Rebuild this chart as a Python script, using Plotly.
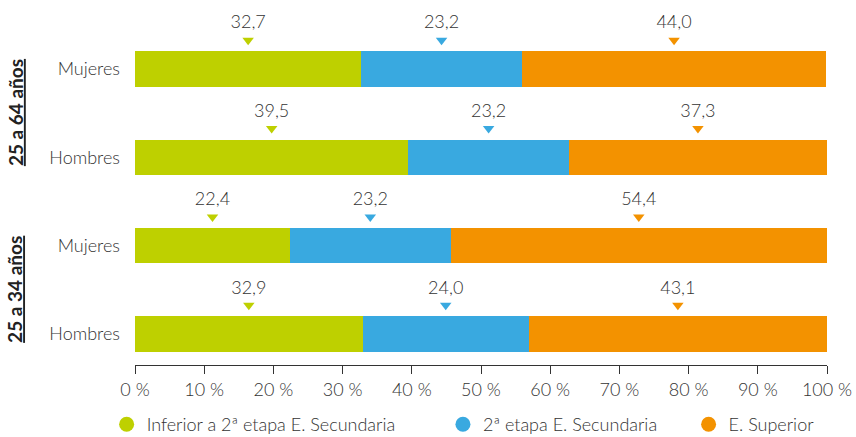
import plotly.graph_objects as go

categories = ["Mujeres", "Hombres", "Mujeres", "Hombres"]
groups = ["25 a 64 años", "25 a 34 años"]
series_names = ["Inferior a 2ª etapa E. Secundaria", "2ª etapa E. Secundaria", "E. Superior"]
inferior = [32.7, 39.5, 22.4, 32.9]
segunda = [23.2, 23.2, 23.2, 24.0]
superior = [44.0, 37.3, 54.4, 43.1]
tick_vals_x = [0, 10, 20, 30, 40, 50, 60, 70, 80, 90, 100]
tick_text_x = [f"{v} %" for v in tick_vals_x]

colors = ["#bed000", "#39a9e0", "#f39200"]
series = [inferior, segunda, superior]

FONT = "Lato"
TXT = "#333333"
FS = 18

ypos = [3, 2, 1, 0]
fig = go.Figure()

base = [0, 0, 0, 0]
for name, vals, col in zip(series_names, series, colors):
    fig.add_trace(go.Bar(
        y=ypos, x=vals, base=base, orientation="h", width=0.4,
        marker=dict(color=col, line=dict(width=0)), showlegend=False, hoverinfo="x"))
    mids = [b + v / 2 for b, v in zip(base, vals)]
    fig.add_trace(go.Scatter(
        x=mids, y=[p + 0.325 for p in ypos], mode="markers+text",
        marker=dict(symbol="triangle-down", size=10, color=col),
        text=[f"{v:.1f}".replace(".", ",") for v in vals],
        textposition="top center", textfont=dict(family=FONT, size=FS, color=TXT, weight=300),
        showlegend=False, hoverinfo="skip", cliponaxis=False))
    base = [b + v for b, v in zip(base, vals)]

legend_x = [-0.041, 0.445, 0.80]
legend_keys = ["legend", "legend2", "legend3"]
for name, col, key in zip(series_names, colors, legend_keys):
    fig.add_trace(go.Scatter(
        x=[None], y=[None], mode="markers", name=name,
        marker=dict(symbol="circle", size=15, color=col),
        showlegend=True, legend=key))

layout_legends = {}
for key, lx in zip(legend_keys, legend_x):
    layout_legends[key] = dict(
        x=lx, xanchor="left", y=-(443 - 365) / 365, yanchor="bottom",
        orientation="h", font=dict(family=FONT, size=FS, color=TXT, weight=300),
        bgcolor="rgba(0,0,0,0)", borderwidth=0, itemsizing="trace",
    )

fig.update_layout(
    width=856, height=437,
    margin=dict(l=135, r=29, t=0, b=72, autoexpand=False),
    paper_bgcolor="white", plot_bgcolor="white",
    barmode="overlay", bargap=0,
    font=dict(family=FONT, size=FS, color=TXT),
    xaxis=dict(range=[0, 100], tickvals=tick_vals_x, ticktext=tick_text_x,
               showgrid=False, zeroline=False, showline=True, linecolor="#333333",
               linewidth=1, ticks="outside", ticklen=8, tickcolor="#333333",
               tickfont=dict(family=FONT, size=FS, color=TXT, weight=300),
               fixedrange=True, automargin=False),
    yaxis=dict(range=[-0.35, 3.78], tickvals=ypos, ticktext=categories,
               showgrid=False, zeroline=False, showline=False, ticks="",
               ticklabelstandoff=14, automargin=False,
               tickfont=dict(family=FONT, size=FS, color=TXT, weight=300), fixedrange=True),
    **layout_legends,
)

for g, yc in zip(groups, [2.5, 0.5]):
    fig.add_annotation(
        x=(15 - 135) / (856 - 135 - 29), xref="paper", xanchor="center", y=yc, yref="y",
        text=f"<b><u>{g}</u></b>", textangle=-90, showarrow=False,
        font=dict(family=FONT, size=19, color="#222222"))

fig.write_html("out.html", config={"displayModeBar": False},
               post_script="document.body.style.margin='0';document.body.style.padding='0';document.body.style.overflow='hidden';")
